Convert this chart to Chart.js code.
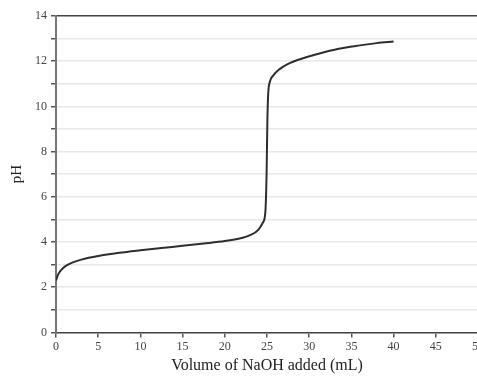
<!DOCTYPE html>
<html>
<head>
<meta charset="utf-8">
<title>Titration curve</title>
<script src="https://cdn.jsdelivr.net/npm/chart.js@4.4.0/dist/chart.umd.min.js"></script>
<style>
  html, body { margin: 0; padding: 0; background: #fff; overflow: hidden; }
  #wrap { position: absolute; left: 0; top: 0; width: 486px; height: 378px; }
</style>
</head>
<body>
<div id="wrap"><canvas id="chart"></canvas></div>
<script>
const volume = [0, 0.3, 1, 2, 3, 5, 7.5, 10, 12.5, 15, 17.5, 20, 22, 23, 24, 24.5, 24.8, 24.95,
                25.05, 25.15, 25.35, 25.7, 26.5, 27.5, 29, 31, 33.5, 36, 38, 40];
const pH = [2.3, 2.6, 2.9, 3.1, 3.22, 3.38, 3.52, 3.63, 3.73, 3.83, 3.93, 4.04, 4.18, 4.3, 4.55, 4.85, 5.3, 7,
            9.5, 10.6, 11.1, 11.35, 11.65, 11.88, 12.1, 12.32, 12.55, 12.7, 12.8, 12.87];

const xTicks = [0, 5, 10, 15, 20, 25, 30, 35, 40, 45, 50];
const yLabels = [0, 2, 4, 6, 8, 10, 12, 14];

const points = volume.map((v, i) => ({ x: v, y: pH[i] }));
const serif = "'Liberation Serif', 'DejaVu Serif', serif";

const ctx = document.getElementById('chart').getContext('2d');
new Chart(ctx, {
  type: 'line',
  data: {
    datasets: [{
      data: points,
      borderColor: '#2e2e2e',
      borderWidth: 2,
      pointRadius: 0,
      cubicInterpolationMode: 'monotone',
      fill: false
    }]
  },
  options: {
    responsive: true,
    maintainAspectRatio: false,
    animation: false,
    layout: { padding: { top: 16, right: 0, bottom: 0, left: 8 } },
    plugins: { legend: { display: false }, tooltip: { enabled: false } },
    scales: {
      x: {
        type: 'linear',
        min: 0, max: 50,
        afterBuildTicks: axis => { axis.ticks = xTicks.map(v => ({ value: v })); },
        ticks: { color: '#444', font: { family: serif, size: 12 }, padding: 2, maxRotation: 0 },
        grid: { drawOnChartArea: false, tickLength: 5, tickColor: '#555', lineWidth: 1.5 },
        border: { color: '#444', width: 1.5 },
        title: { display: true, text: 'Volume of NaOH added (mL)', color: '#222',
                 font: { family: serif, size: 16 }, padding: { top: 0, bottom: 3 } }
      },
      y: {
        min: 0, max: 14,
        ticks: {
          stepSize: 1, color: '#444', font: { family: serif, size: 12 }, padding: 4,
          callback: v => yLabels.includes(v) ? v : ''
        },
        grid: {
          color: c => c.tick && c.tick.value === 14 ? '#444' : '#e8e8e8',
          lineWidth: 1.5,
          tickLength: 5, tickColor: '#555'
        },
        border: { color: '#777', width: 2 },
        title: { display: true, text: 'pH', color: '#222',
                 font: { family: serif, size: 15 }, padding: { top: 0, bottom: 5 } }
      }
    }
  }
});
</script>
</body>
</html>
